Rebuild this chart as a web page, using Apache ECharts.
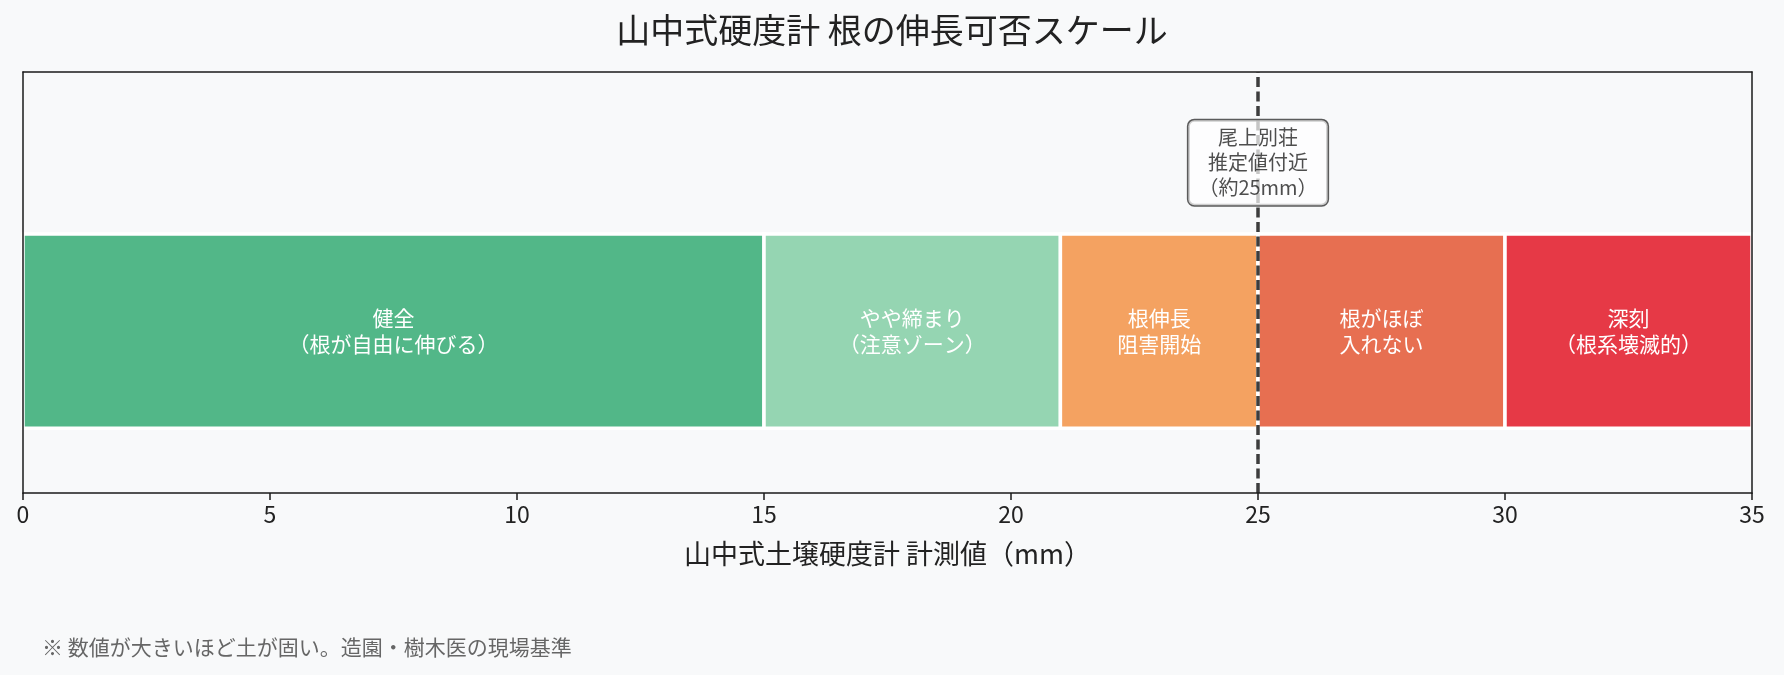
<!DOCTYPE html>
<html>
<head>
<meta charset="utf-8">
<script src="https://cdn.jsdelivr.net/npm/echarts@6/dist/echarts.min.js"></script>
<style>
html,body{margin:0;padding:0;background:#f8f9fa;}
#c{width:1784px;height:675px;}
</style>
</head>
<body>
<div id="c"></div>
<script>
// ---- data ----
const zoneStarts = [0, 15, 21, 25, 30];
const zoneEnds = [15, 21, 25, 30, 35];
const zoneLabels = [
  '健全\n（根が自由に伸びる）',
  'やや締まり\n（注意ゾーン）',
  '根伸長\n阻害開始',
  '根がほぼ\n入れない',
  '深刻\n（根系壊滅的）'
];
const zoneColors = ['#52b788', '#95d5b2', '#f4a261', '#e76f51', '#e63946'];
const barLow = -0.3, barHigh = 0.3;
const yMin = -0.5, yMax = 0.8;
const xMin = 0, xMax = 35, xInterval = 5;
const markerValue = 25;
const markerLabelY = 0.52;
const markerLabel = '尾上別荘\n推定値付近\n（約25mm）';
const titleText = '山中式硬度計 根の伸長可否スケール';
const xAxisName = '山中式土壌硬度計 計測値（mm）';
const footnote = '※ 数値が大きいほど土が固い。造園・樹木医の現場基準';

const FONT = '"Noto Sans CJK JP", "Noto Sans", sans-serif';
const chart = echarts.init(document.getElementById('c'), null, {renderer: 'canvas'});

const zoneData = zoneStarts.map((s, i) => [s, zoneEnds[i], barLow, barHigh, i]);
const frameLine = {show: true, onZero: false, lineStyle: {color: '#1a1a1a', width: 1.5}};

chart.setOption({
  backgroundColor: '#f8f9fa',
  animation: false,
  title: {
    text: titleText,
    left: 'center',
    top: 8,
    textStyle: {fontFamily: FONT, fontSize: 34, fontWeight: 'normal', color: '#222'}
  },
  graphic: [{
    type: 'text',
    left: 42,
    top: 637,
    style: {text: footnote, fill: '#666', font: '21px ' + FONT}
  }],
  grid: {left: 23, right: 32, top: 72, bottom: 182, show: false},
  xAxis: [{
    type: 'value', min: xMin, max: xMax, interval: xInterval, z: 10, position: 'bottom',
    name: xAxisName, nameLocation: 'middle', nameGap: 47,
    nameTextStyle: {fontFamily: FONT, fontSize: 27, color: '#222'},
    axisLine: frameLine,
    axisTick: {show: true, length: 7, lineStyle: {color: '#1a1a1a', width: 1.5}},
    axisLabel: {fontFamily: FONT, fontSize: 23, color: '#222', margin: 10},
    splitLine: {show: false}
  }, {
    type: 'value', min: xMin, max: xMax, position: 'top', z: 10,
    axisLine: frameLine, axisTick: {show: false}, axisLabel: {show: false}, splitLine: {show: false}
  }],
  yAxis: [{
    type: 'value', min: yMin, max: yMax, position: 'left', z: 10,
    axisLine: frameLine, axisTick: {show: false}, axisLabel: {show: false}, splitLine: {show: false}
  }, {
    type: 'value', min: yMin, max: yMax, position: 'right', z: 10,
    axisLine: frameLine, axisTick: {show: false}, axisLabel: {show: false}, splitLine: {show: false}
  }],
  series: [
    {
      type: 'custom',
      z: 2,
      data: zoneData,
      encode: {x: [0, 1], y: [2, 3]},
      renderItem: function (params, api) {
        const p0 = api.coord([api.value(0), api.value(3)]);
        const p1 = api.coord([api.value(1), api.value(2)]);
        const idx = api.value(4);
        return {
          type: 'group',
          children: [{
            type: 'rect',
            shape: {x: p0[0], y: p0[1], width: p1[0] - p0[0], height: p1[1] - p0[1]},
            style: {fill: zoneColors[idx], stroke: '#ffffff', lineWidth: 3.5}
          }, {
            type: 'text',
            x: (p0[0] + p1[0]) / 2,
            y: (p0[1] + p1[1]) / 2,
            style: {
              text: zoneLabels[idx], fill: '#ffffff', font: '21px ' + FONT,
              align: 'center', verticalAlign: 'middle', lineHeight: 26
            }
          }]
        };
      }
    },
    {
      type: 'line',
      z: 3,
      symbol: 'none',
      data: [[markerValue, yMin], [markerValue, yMax]],
      lineStyle: {color: '#3d3d3d', width: 3.5, type: [10, 4.5]},
      silent: true
    },
    {
      type: 'scatter',
      z: 4,
      symbolSize: 0,
      data: [[markerValue, markerLabelY]],
      label: {
        show: true, position: 'inside', formatter: markerLabel,
        fontFamily: FONT, fontSize: 20, color: '#222', lineHeight: 25, align: 'center',
        backgroundColor: 'rgba(255,255,255,0.88)', borderColor: '#333', borderWidth: 1.5,
        borderRadius: 6, padding: [5, 10]
      },
      silent: true
    }
  ]
});
</script>
</body>
</html>
